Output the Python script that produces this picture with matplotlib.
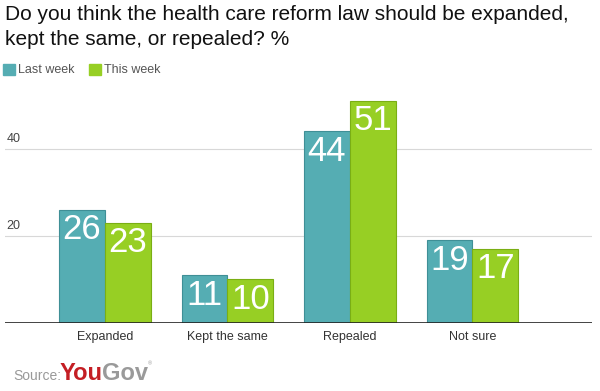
import matplotlib.pyplot as plt
import numpy as np

plt.rcParams['font.family'] = ['Liberation Sans', 'DejaVu Sans']

categories = ['Expanded', 'Kept the same', 'Repealed', 'Not sure']
last_week = [26, 11, 44, 19]
this_week = [23, 10, 51, 17]
series_names = ['Last week', 'This week']
yticks = [20, 40]

TEAL = '#55adb3'
TEAL_EDGE = '#3f8f96'
GREEN = '#97cf24'
GREEN_EDGE = '#7aae14'

fig = plt.figure(figsize=(6.0, 3.91), dpi=100)
ax = fig.add_axes([5 / 600, 68 / 391, 587 / 600, 239 / 391])

x = np.arange(len(categories))
w = 0.375
b1 = ax.bar(x - w / 2, last_week, w, color=TEAL, edgecolor=TEAL_EDGE, linewidth=0.8, zorder=3)
b2 = ax.bar(x + w / 2, this_week, w, color=GREEN, edgecolor=GREEN_EDGE, linewidth=0.8, zorder=3)

for bars, vals in ((b1, last_week), (b2, this_week)):
    for rect, v in zip(bars, vals):
        ax.annotate(str(v), (rect.get_x() + rect.get_width() / 2, v),
                    xytext=(0, -2.5), textcoords='offset points',
                    ha='center', va='top', color='white', fontsize=25, zorder=4)

ax.set_xlim(-0.816, 3.976)
ax.set_ylim(0, 54.9)

for t in yticks:
    ax.axhline(t, color='#d8d8d8', linewidth=0.8, zorder=1)
    ax.annotate(str(t), (-0.816, t), xytext=(1, 2.5), textcoords='offset points',
                ha='left', va='bottom', color='#444444', fontsize=9)
ax.axhline(0, color='#222222', linewidth=1.2, zorder=5)

ax.set_xticks(x)
ax.set_xticklabels(categories, fontsize=9, color='#333333')
ax.tick_params(axis='x', length=0, pad=6)
ax.set_yticks([])
for s in ax.spines.values():
    s.set_visible(False)

fig.text(5 / 600, 1 - 20 / 391, 'Do you think the health care reform law should be expanded,',
         ha='left', va='baseline', fontsize=15, color='#111111')
fig.text(5 / 600, 1 - 45 / 391, 'kept the same, or repealed? %',
         ha='left', va='baseline', fontsize=15, color='#111111')

# legend
for i, (name, col) in enumerate(zip(series_names, [TEAL, GREEN])):
    x0 = 3 + i * 86
    fig.patches.append(plt.Rectangle((x0 / 600, 1 - 75 / 391), 12 / 600, 11 / 391,
                                     transform=fig.transFigure, color=col))
    fig.text((x0 + 15) / 600, 1 - 70 / 391, name, ha='left', va='center',
             fontsize=9, color='#555555')

# source
r = fig.canvas.get_renderer()
fig.text(13 / 600, 1 - 380 / 391, 'Source:', ha='left', va='baseline', fontsize=10, color='#999999')
you = fig.text(60 / 600, 1 - 380 / 391, 'You', ha='left', va='baseline', fontsize=17,
               fontweight='bold', color='#c41e24')
x1 = you.get_window_extent(r).x1
gov = fig.text((x1 - 1) / 600, 1 - 380 / 391, 'Gov', ha='left', va='baseline', fontsize=17,
               fontweight='bold', color='#9a9a9a')
x2 = gov.get_window_extent(r).x1
fig.text(x2 / 600, 1 - 364 / 391, '®', ha='left', va='center', fontsize=4, color='#9a9a9a')

fig.savefig('out.png', dpi=100)
